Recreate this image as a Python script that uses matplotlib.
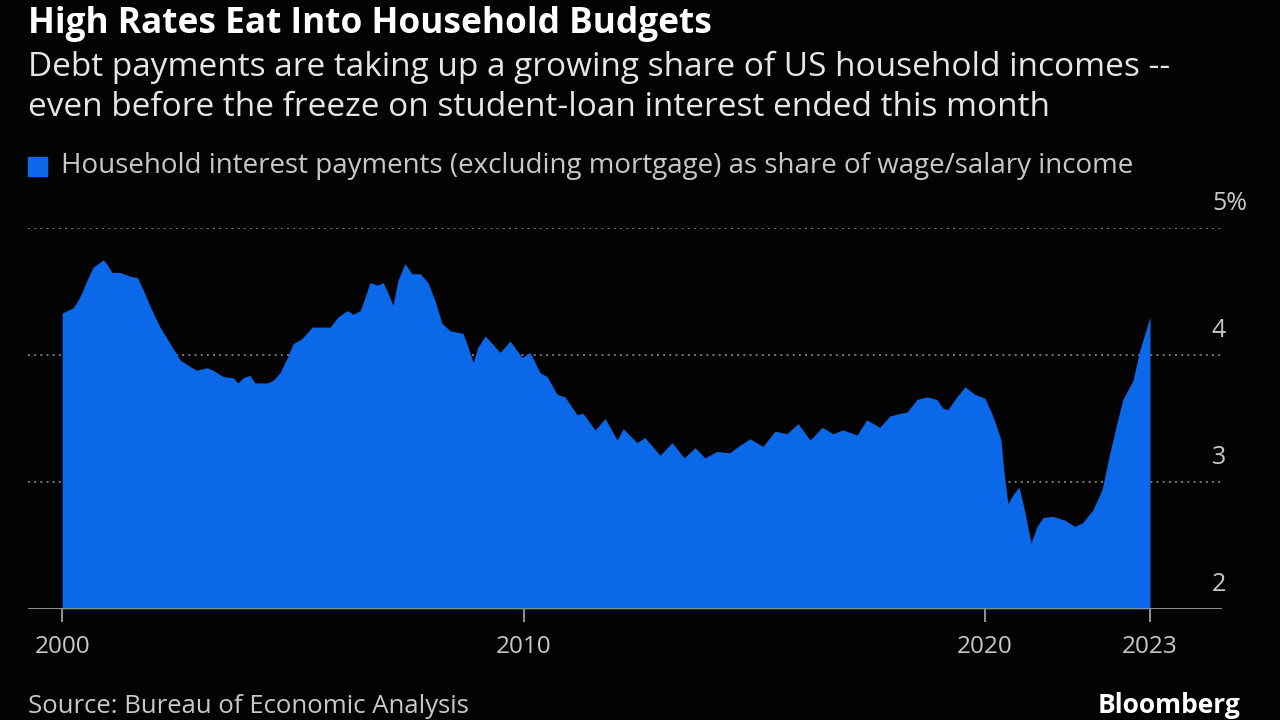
import matplotlib
matplotlib.use("Agg")
import matplotlib.pyplot as plt
from matplotlib import font_manager, transforms
import numpy as np

# household interest payments (ex mortgage) as % of wage/salary income
years = [2000.00, 2000.17, 2000.24, 2000.39, 2000.54, 2000.67, 2000.82, 2000.89, 2000.98,
         2001.08, 2001.26, 2001.47, 2001.63, 2001.76, 2001.91, 2002.12, 2002.34, 2002.56,
         2002.77, 2002.92, 2003.14, 2003.27, 2003.49, 2003.71, 2003.81, 2003.92, 2004.07,
         2004.18, 2004.44, 2004.57, 2004.72, 2004.88, 2005.01, 2005.20, 2005.42, 2005.63,
         2005.81, 2005.98, 2006.18, 2006.31, 2006.46, 2006.57, 2006.67, 2006.83, 2006.96,
         2007.06, 2007.17, 2007.28, 2007.43, 2007.58, 2007.76, 2007.93, 2008.08, 2008.23,
         2008.41, 2008.69, 2008.80, 2008.91, 2009.01, 2009.17, 2009.32, 2009.49, 2009.71,
         2009.97, 2010.14, 2010.36, 2010.51, 2010.73, 2010.90, 2011.16, 2011.29, 2011.55,
         2011.77, 2012.03, 2012.16, 2012.46, 2012.63, 2012.96, 2013.22, 2013.48, 2013.72,
         2013.93, 2014.19, 2014.47, 2014.69, 2014.91, 2015.19, 2015.45, 2015.71, 2015.95,
         2016.21, 2016.47, 2016.71, 2016.92, 2017.23, 2017.44, 2017.72, 2017.94, 2018.16,
         2018.31, 2018.53, 2018.74, 2018.96, 2019.09, 2019.20, 2019.39, 2019.57, 2019.78,
         2020.00, 2020.15, 2020.26, 2020.35, 2020.41, 2020.50, 2020.61, 2020.74, 2020.87,
         2021.00, 2021.13, 2021.26, 2021.47, 2021.73, 2021.95, 2022.12, 2022.34, 2022.54,
         2022.71, 2022.86, 2022.99, 2023.21, 2023.36, 2023.58]
share = [4.33, 4.36, 4.37, 4.46, 4.59, 4.69, 4.73, 4.75, 4.71,
         4.65, 4.65, 4.62, 4.61, 4.51, 4.38, 4.22, 4.09, 3.96,
         3.91, 3.88, 3.90, 3.88, 3.83, 3.82, 3.78, 3.82, 3.84,
         3.78, 3.78, 3.80, 3.86, 3.98, 4.09, 4.13, 4.22, 4.22,
         4.22, 4.30, 4.35, 4.32, 4.35, 4.46, 4.57, 4.55, 4.57,
         4.49, 4.39, 4.59, 4.72, 4.64, 4.64, 4.57, 4.43, 4.25,
         4.19, 4.17, 4.06, 3.94, 4.06, 4.15, 4.09, 4.02, 4.11,
         3.98, 4.02, 3.86, 3.83, 3.69, 3.67, 3.53, 3.54, 3.41,
         3.50, 3.33, 3.42, 3.31, 3.35, 3.21, 3.31, 3.19, 3.27,
         3.19, 3.24, 3.23, 3.29, 3.34, 3.28, 3.40, 3.38, 3.46,
         3.33, 3.43, 3.38, 3.41, 3.37, 3.49, 3.43, 3.52, 3.54,
         3.55, 3.65, 3.67, 3.65, 3.58, 3.57, 3.67, 3.75, 3.69,
         3.66, 3.54, 3.43, 3.33, 3.09, 2.83, 2.90, 2.96, 2.76,
         2.52, 2.65, 2.72, 2.73, 2.70, 2.65, 2.68, 2.78, 2.94,
         3.23, 3.46, 3.65, 3.80, 4.04, 4.30]

tick_years = [2000, 2010, 2020, 2023.58]
tick_labels = ["2000", "2010", "2020", "2023"]
y_ticks = [2, 3, 4, 5]
y_labels = ["2", "3", "4", "5%"]

names = {f.name for f in font_manager.fontManager.ttflist}
font = next((n for n in ["Open Sans", "Noto Sans"] if n in names), "DejaVu Sans")
plt.rcParams["font.family"] = [font, "DejaVu Sans"]

bg = "#030303"
blue = "#0b68e8"

fig = plt.figure(figsize=(12.8, 7.2), dpi=100, facecolor=bg)
ax = fig.add_axes([28 / 1280, 111 / 720, 1194 / 1280, 381 / 720])
ax.set_facecolor(bg)

ax.fill_between(years, share, 2, color=blue, linewidth=0, zorder=2)

ax.set_xlim(1999.26, 2025.14)
ax.set_ylim(2, 5)

for s in ax.spines.values():
    s.set_visible(False)

# dotted gridlines, solid baseline
for v in y_ticks[1:]:
    ax.axhline(v, color="#8a8a8a", linestyle=(0, (1.2, 2.5)), linewidth=1.2, zorder=1)
ax.axhline(2, color="#8c8c8c", linewidth=2.2, zorder=3)

ax.set_yticks([])
ax.set_xticks(tick_years)
ax.set_xticklabels(tick_labels)
ax.tick_params(axis="x", colors="#8c8c8c", length=9, width=1.5, pad=10,
               labelsize=17.5, labelcolor="#c8c8c8")

trans = transforms.offset_copy(ax.get_yaxis_transform(), fig=fig, x=0, y=12, units="dots")
for v, lab in zip(y_ticks, y_labels):
    ax.text(0.9916, v, lab, transform=trans, ha="left", va="bottom",
            fontsize=18, color="#c8c8c8")

# titles
fig.text(28 / 1280, 1 - 24 / 720, "High Rates Eat Into Household Budgets",
         fontsize=25.4, fontweight="bold", color="#ffffff", va="center")
fig.text(28 / 1280, 1 - 67 / 720,
         "Debt payments are taking up a growing share of US household incomes --",
         fontsize=24, color="#e6e6e6", va="center")
fig.text(28 / 1280, 1 - 108 / 720,
         "even before the freeze on student-loan interest ended this month",
         fontsize=24, color="#e6e6e6", va="center")

# legend
fig.patches.append(plt.Rectangle((28 / 1280, 1 - 176 / 720), 19 / 1280, 19 / 720,
                                 transform=fig.transFigure, color=blue))
fig.text(61 / 1280, 1 - 166 / 720,
         "Household interest payments (excluding mortgage) as share of wage/salary income",
         fontsize=20, color="#c8c8c8", va="center")

# footer (sits at the bottom edge, as in the source image)
fig.text(28 / 1280, 0.001, "Source: Bureau of Economic Analysis",
         fontsize=18.5, color="#c8c8c8", va="bottom")
fig.text(1240 / 1280, 0.001, "Bloomberg",
         fontsize=19, fontweight="bold", color="#ffffff", va="bottom", ha="right")

fig.savefig("out.png", dpi=100, facecolor=bg)
